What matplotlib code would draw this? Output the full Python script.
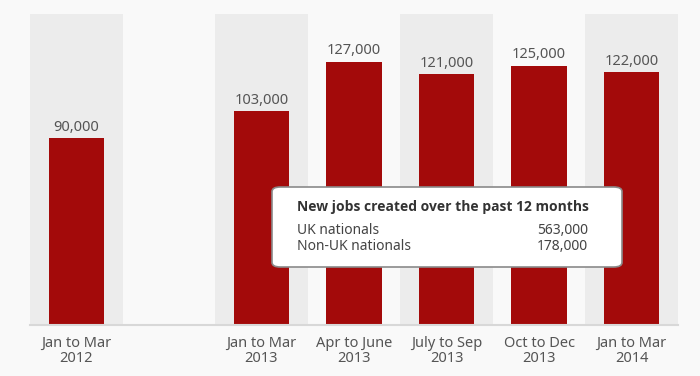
import matplotlib
matplotlib.use("Agg")
import matplotlib.pyplot as plt
from matplotlib.patches import FancyBboxPatch

categories = ["Jan to Mar\n2012", "Jan to Mar\n2013", "Apr to June\n2013",
              "July to Sep\n2013", "Oct to Dec\n2013", "Jan to Mar\n2014"]
positions = [0, 2, 3, 4, 5, 6]
values = [90000, 103000, 127000, 121000, 125000, 122000]
band_positions = [0, 2, 4, 6]

box_title = "New jobs created over the past 12 months"
box_labels = ["UK nationals", "Non-UK nationals"]
box_values = [563000, 178000]

plt.rcParams['font.family'] = ['Noto Sans', 'DejaVu Sans']

W, H = 700, 376
fig = plt.figure(figsize=(W / 100, H / 100), dpi=100)
fig.patch.set_facecolor("#f9f9f9")

ax = fig.add_axes([30 / W, (H - 325) / H, (678 - 30) / W, (325 - 14) / H])
ax.set_facecolor("#f9f9f9")
ax.set_xlim(-0.5, 6.5)
ax.set_ylim(0, 150000)

for p in band_positions:
    ax.axvspan(p - 0.5, p + 0.5, color="#ececec", zorder=0, lw=0)

bars = ax.bar(positions, values, width=0.6, color="#a30a0a", zorder=2)
for p, v in zip(positions, values):
    ax.annotate(f"{v:,}", (p, v), xytext=(0, 2.5), textcoords="offset points",
                ha="center", va="bottom", fontsize=10.5, color="#555555")

ax.set_xticks(positions)
ax.set_xticklabels(categories, fontsize=10.5, color="#555555", linespacing=1.0)
ax.tick_params(axis="x", length=0, pad=8)
ax.set_yticks([])
for s in ["top", "right", "left"]:
    ax.spines[s].set_visible(False)
ax.spines["bottom"].set_color("#d8d8d8")
ax.spines["bottom"].set_linewidth(1.5)
ax.spines["bottom"].set_zorder(3)

# info box
bx0, by0, bx1, by1 = 272, 187, 622, 267
box = FancyBboxPatch((bx0 / W, (H - by1) / H), (bx1 - bx0) / W, (by1 - by0) / H,
                     boxstyle="round,pad=0,rounding_size=0.012",
                     transform=fig.transFigure, facecolor="white",
                     edgecolor="#8a8a8a", linewidth=1.2, zorder=5)
fig.patches.append(box)
fig.text(297 / W, (H - 207) / H, box_title, fontsize=10, fontweight="bold",
         family=['Open Sans', 'DejaVu Sans'],
         color="#333333", va="center", ha="left", zorder=6)
for i, (lab, val) in enumerate(zip(box_labels, box_values)):
    y = (H - (230.5 + 15.5 * i)) / H
    fig.text(297 / W, y, lab, fontsize=10, color="#444444", va="center", ha="left", zorder=6)
    fig.text(588 / W, y, f"{val:,}", fontsize=10, color="#444444", va="center", ha="right", zorder=6)

fig.savefig("out.png", dpi=100, facecolor=fig.get_facecolor())
